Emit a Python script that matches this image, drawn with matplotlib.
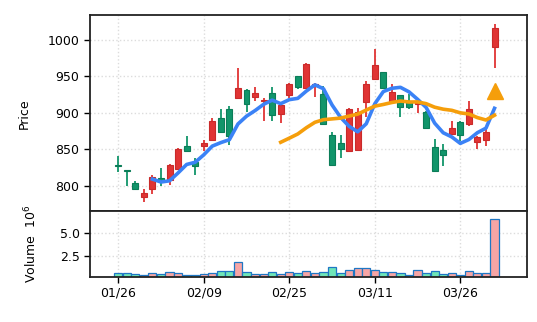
#!/usr/bin/env python3
"""
Candlestick chart with moving averages and volume panel
"""

import numpy as np
import pandas as pd
import matplotlib
matplotlib.use('Agg')
import matplotlib.pyplot as plt
from matplotlib.patches import Rectangle

# daily OHLC values (45 sessions)
opens = [828.5, 821.5, 804, 784, 795, 810, 808, 823, 854, 832,
         855, 863, 893, 905, 920, 931.5, 921, 915.5, 927, 898,
         924, 950, 934, 937, 925, 870, 859, 848, 848.5, 915,
         946, 956, 914, 924, 914, 912, 901, 853, 849, 871,
         887.5, 884, 859.5, 862.5, 990.5]
highs = [840, 822, 806, 795, 814, 824, 829, 852, 868, 838,
         863, 893, 905, 909, 961, 933, 935, 920.5, 935, 914,
         941, 950.5, 968.5, 940.5, 937, 874, 869, 906, 906, 943,
         988, 956.5, 940, 924.5, 925, 920, 902, 863.5, 857, 888.5,
         888, 916, 867.5, 877.5, 1021]
lows = [818, 799, 794, 777, 789, 800, 801, 821, 847, 815,
        847, 861, 872, 856, 919.5, 901, 916, 888.5, 888.5, 886,
        920, 933, 933, 922, 884, 828, 838, 846.5, 848, 894.5,
        945.5, 933.5, 913.5, 893.5, 904.5, 899, 878, 820, 827, 870.5,
        861, 881.5, 850, 855, 961]
closes = [827, 819.5, 796, 790, 812, 807, 828, 850, 848, 827,
          858, 888, 874, 868, 934.5, 911.5, 926.5, 917, 896.5, 910.5,
          939, 935.5, 967, 939, 884, 828, 850, 905.5, 901.5, 939,
          965, 934, 928, 908, 908, 914, 878.5, 820, 842, 879.5,
          869.5, 905, 867, 873, 1015.5]
# volume in millions
volumes = [0.62, 0.62, 0.47, 0.43, 0.62, 0.51, 0.76, 0.62, 0.43, 0.43,
           0.47, 0.62, 0.83, 0.83, 1.88, 0.69, 0.47, 0.47, 0.69, 0.51,
           0.69, 0.58, 0.80, 0.58, 0.69, 1.27, 0.65, 1.01, 1.16, 1.16,
           1.01, 0.69, 0.69, 0.58, 0.40, 0.94, 0.58, 0.80, 0.51, 0.62,
           0.40, 0.80, 0.62, 0.62, 6.60]

tick_labels = ['01/26', '02/09', '02/25', '03/11', '03/26']
marker_price = 930  # signal marker on the last session

UP = '#e03434'
UP_EDGE = '#c92a2a'
DOWN = '#11956a'
DOWN_EDGE = '#0b7d58'
VOL_UP = '#f7a5a5'
VOL_DOWN = '#6fe6b8'
VOL_EDGE = '#1f77c4'
MA_SHORT = '#3b82f6'
MA_LONG = '#f59e0b'
GRID = '#dcdcdc'

plt.rcParams['font.family'] = 'DejaVu Sans'
plt.rcParams['font.size'] = 9

df = pd.DataFrame({'open': opens, 'high': highs, 'low': lows,
                   'close': closes, 'volume': volumes})
x = np.arange(len(df))
up = df['close'] >= df['open']

fig = plt.figure(figsize=(5.37, 3.22), dpi=100)
ax = fig.add_axes([0.1676, 0.3432, 0.8138, 0.6102])
axv = fig.add_axes([0.1676, 0.1413, 0.8138, 0.2019], sharex=ax)

# candles
body_w = 0.7
for i, row in df.iterrows():
    face = UP if up[i] else DOWN
    edge = UP_EDGE if up[i] else DOWN_EDGE
    ax.plot([i, i], [row['low'], row['high']], color=face, lw=1.3,
            solid_capstyle='butt', zorder=2)
    lo = min(row['open'], row['close'])
    h = max(abs(row['close'] - row['open']), 0.8)
    ax.add_patch(Rectangle((i - body_w / 2, lo), body_w, h, facecolor=face,
                           edgecolor=edge, lw=0.8, zorder=3))

# moving averages
ma5 = df['close'].rolling(5).mean()
ma20 = df['close'].rolling(20).mean()
ax.plot(x, ma5, color=MA_SHORT, lw=2.6, zorder=4)
ax.plot(x, ma20, color=MA_LONG, lw=2.6, zorder=4)
ax.plot([x[-1]], [marker_price], marker='^', color=MA_LONG,
        markersize=12, linestyle='none', zorder=5)

# volume bars
vcolors = [VOL_UP if u else VOL_DOWN for u in up]
axv.bar(x, df['volume'], width=0.95, color=vcolors, edgecolor=VOL_EDGE,
        linewidth=0.9, zorder=2)

# axes limits and ticks
ax.set_xlim(-3.3, 47.8)
ax.set_ylim(764.5, 1034)
ax.set_yticks([800, 850, 900, 950, 1000])
axv.set_ylim(0.25, df['volume'].max() * 1.12)
axv.set_yticks([2.5, 5.0])
axv.set_yticklabels(['2.5', '5.0'])
axv.set_xticks(x[::10])
axv.set_xticklabels(tick_labels)
ax.tick_params(axis='x', bottom=False, labelbottom=False)

for a in (ax, axv):
    a.grid(True, linestyle=':', color=GRID, lw=1.0, zorder=0)
    a.set_axisbelow(True)
    a.tick_params(direction='out', length=4, width=1, colors='black')
    for s in a.spines.values():
        s.set_linewidth(1.3)
        s.set_color('#222222')

ax.set_ylabel('Price')
axv.set_ylabel('Volume  $10^6$')
ax.yaxis.set_label_coords(-0.135, 0.5)
axv.yaxis.set_label_coords(-0.115, 0.5)

fig.savefig('out.png', dpi=100, facecolor='white')
plt.close(fig)
